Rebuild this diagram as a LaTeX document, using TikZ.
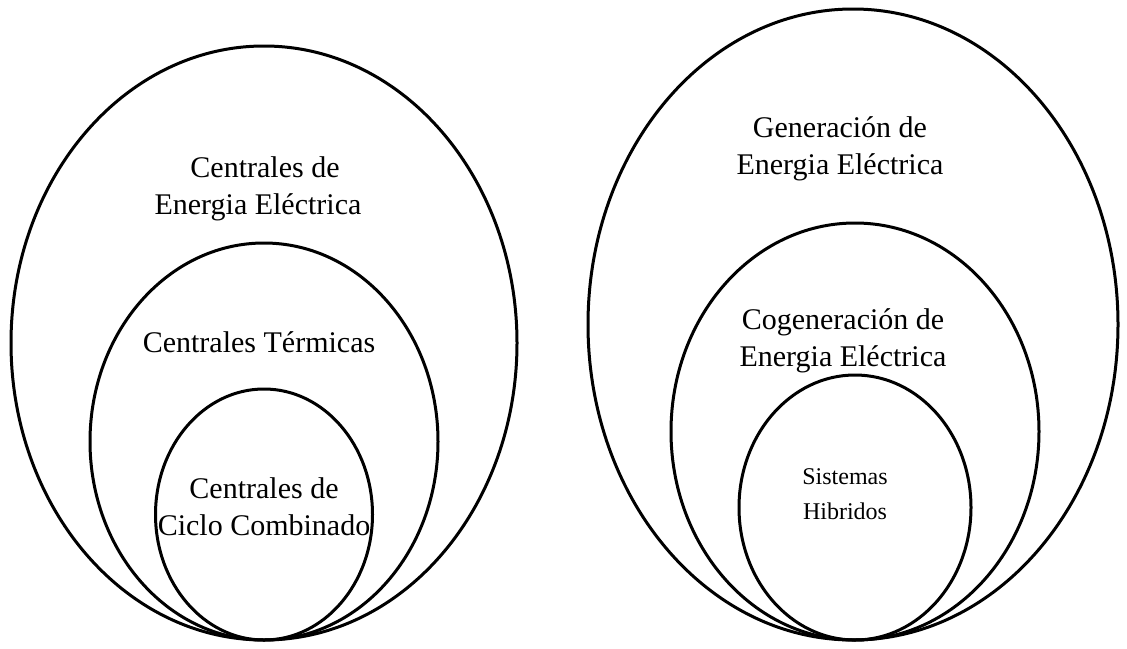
\documentclass[tikz,border=0pt]{standalone}
\usepackage{fontspec}
\setmainfont{Liberation Serif}
\begin{document}
\begin{tikzpicture}[x=1pt,y=-1pt,
  ring/.style={draw=black,line width=3pt},
  bigtext/.style={inner sep=0pt,align=center,font=\fontsize{30}{37}\selectfont},
  smalltext/.style={inner sep=0pt,align=center,font=\fontsize{24}{35}\selectfont}]
\useasboundingbox (0,0) rectangle (1127,648);
% left set
\draw[ring] (264,343) ellipse [x radius=253,y radius=297];
\draw[ring] (264,441.5) ellipse [x radius=174,y radius=198.5];
\draw[ring] (264,514.5) ellipse [x radius=108.5,y radius=125.5];
\node[bigtext] (l1) at (258,189) {\hspace*{14pt}Centrales de\\Energia Eléctrica};
\node[bigtext,anchor=base] (l2) at (259,352) {Centrales Térmicas};
\node[bigtext] (l3) at (264,507) {Centrales de\\Ciclo Combinado};
% right set
\draw[ring] (853,324.5) ellipse [x radius=265,y radius=315.5];
\draw[ring] (855,431.5) ellipse [x radius=184,y radius=208.5];
\draw[ring] (855,507.5) ellipse [x radius=116,y radius=132.5];
\node[bigtext] (r1) at (840,149) {Generación de\\Energia Eléctrica};
\node[bigtext] (r2) at (843,341) {Cogeneración de\\Energia Eléctrica};
\node[smalltext] (r3) at (845,494) {Sistemas\\Hibridos};
\end{tikzpicture}
\end{document}
